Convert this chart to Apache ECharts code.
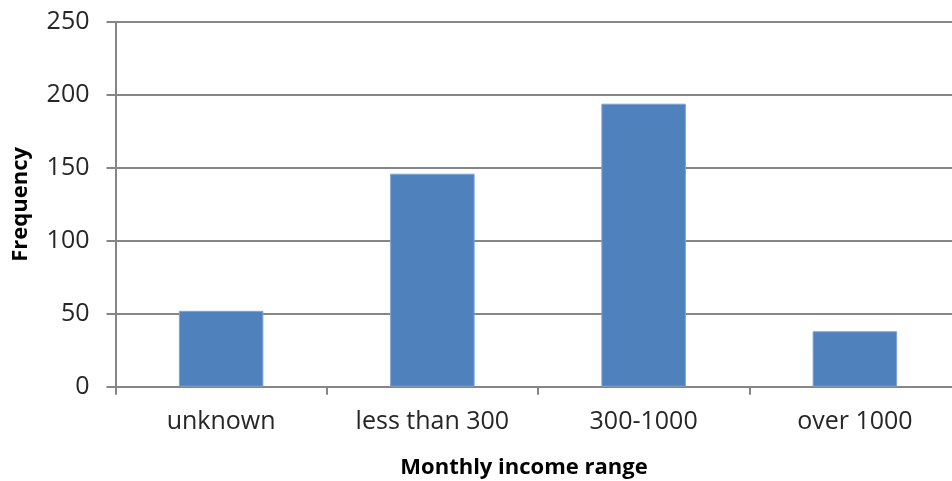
<!DOCTYPE html>
<html>
<head>
<meta charset="utf-8">
<script src="https://cdn.jsdelivr.net/npm/echarts@6/dist/echarts.min.js"></script>
<style>
  html, body { margin: 0; padding: 0; background: #fff; }
  #chart { width: 952px; height: 481px; }
</style>
</head>
<body>
<div id="chart"></div>
<script>
// Income ranges and how many respondents fall in each
const categories = ['unknown', 'less than 300', '300-1000', 'over 1000'];
const frequency = [52, 146, 194, 38];
const yTicks = { min: 0, max: 250, interval: 50 };

const axisGrey = '#868686';
const textColor = '#262626';
const font = 'Open Sans';

const chart = echarts.init(document.getElementById('chart'), null, { renderer: 'canvas' });
chart.setOption({
  animation: false,
  // the plot area runs slightly past the right edge of the canvas
  grid: { left: 115.5, top: 22, height: 364.7, width: 845, containLabel: false, outerBoundsMode: 'none' },
  xAxis: {
    type: 'category',
    data: categories,
    name: 'Monthly income range',
    nameLocation: 'middle',
    nameGap: 70,
    nameTextStyle: { fontFamily: font, fontSize: 22, fontWeight: 'bold', color: '#000', padding: [0, 28, 0, 0] },
    axisLine: { lineStyle: { color: axisGrey, width: 2 } },
    axisTick: { show: true, length: 8, lineStyle: { color: axisGrey, width: 2 } },
    axisLabel: { fontFamily: font, fontSize: 25, color: textColor, margin: 23 },
    splitLine: { show: false }
  },
  yAxis: {
    type: 'value',
    min: yTicks.min,
    max: yTicks.max,
    interval: yTicks.interval,
    name: 'Frequency',
    nameLocation: 'middle',
    nameRotate: 90,
    nameGap: 84,
    nameTextStyle: { fontFamily: font, fontSize: 22, fontWeight: 'bold', color: '#000' },
    axisLine: { show: true, lineStyle: { color: axisGrey, width: 2 } },
    axisTick: { show: true, length: 9, lineStyle: { color: axisGrey, width: 2 } },
    axisLabel: { fontFamily: font, fontSize: 25, color: textColor, margin: 26 },
    splitLine: { show: true, lineStyle: { color: axisGrey, width: 2 } }
  },
  series: [{
    type: 'bar',
    data: frequency,
    barWidth: '40%',
    itemStyle: { color: '#4F81BD', borderColor: '#7FA3D1', borderWidth: 1 }
  }]
});
</script>
</body>
</html>
